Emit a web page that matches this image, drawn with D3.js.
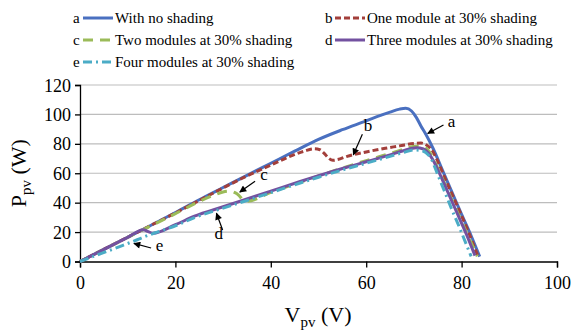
<!DOCTYPE html>
<html>
<head>
<meta charset="utf-8">
<script src="https://cdn.jsdelivr.net/npm/d3@7"></script>
</head>
<body style="margin:0">
<svg id="chart" width="571" height="331"></svg>
<script>
// Values
const xTicks = [0, 20, 40, 60, 80, 100];
const yTicks = [0, 20, 40, 60, 80, 100, 120];

const vA = [0, 5, 10, 15, 20, 25, 30, 35, 40, 45, 50, 55, 60, 63, 65, 67, 68.3, 69.5, 70.5, 71.5, 72.5, 74, 76, 78, 80, 82, 83.8];
const pA = [0, 8.3, 16.5, 24.8, 33.3, 42, 50.3, 58.6, 66.8, 75, 83, 89.6, 95.6, 99.3, 101.6, 103.6, 104.2, 102.3, 98, 92, 86.5, 77, 62, 47, 32, 17.5, 3.3];

const vB = [0, 5, 10, 15, 20, 25, 30, 35, 40, 44, 47, 49, 50.3, 51.2, 52.2, 53, 54, 56, 60, 64, 67, 70, 71.5, 72.7, 74, 75, 77, 79, 81, 83.5];
const pB = [0, 8.3, 16.5, 24.8, 33, 41.5, 50, 58.2, 65.5, 71.5, 75, 76.6, 76, 73.5, 70, 68.8, 69.3, 71.5, 74.5, 77, 78.6, 80.3, 80.5, 79, 74.6, 68, 53, 38.5, 23.5, 3];

const vC = [0, 5, 10, 15, 20, 25, 28, 30, 31.5, 32.5, 33.3, 34.2, 35, 40, 45, 50, 55, 60, 65, 68, 70.5, 71.8, 72.8, 74, 75, 77, 79, 81, 83.3];
const pC = [0, 8.2, 16.4, 24.5, 32.5, 40.8, 45, 47.3, 47.8, 46.8, 45, 41.8, 41, 47, 52.6, 58.2, 63.5, 68.6, 73.5, 76.5, 78.3, 78, 76.3, 70.5, 63.5, 49, 34.5, 20, 3.5];

const vD = [0, 5, 10, 13.3, 14.3, 15.3, 20, 24, 30, 35, 40, 46, 50, 55, 60, 65, 68, 70.5, 72, 73, 74, 75, 77, 79, 81, 82.8];
const pD = [0, 8.2, 16.4, 21.6, 20.3, 19.2, 25, 30.8, 37.2, 42.5, 47.8, 54.2, 58.3, 63.2, 67.8, 72.5, 75.5, 77.3, 76.5, 74, 69, 62.5, 48, 33.3, 18.5, 4];

const vE = [0, 3, 6, 9, 12, 13.8, 15.5, 20, 24, 30, 35, 40, 46, 50, 55, 60, 65, 68, 70, 71.5, 72.5, 73.5, 75, 76.5, 78, 79.7, 81, 82];
const pE = [0, 3.7, 7.3, 11, 14.8, 17.2, 19.2, 24.3, 29.8, 36.3, 41.5, 46.8, 53.2, 57.3, 62.2, 66.8, 71.5, 74.3, 75.8, 75.5, 74, 70.5, 59, 47, 35, 22, 11.5, 3.5];

const seriesNames = ["With no shading", "One module at 30% shading", "Two modules at 30% shading",
  "Three modules at 30% shading", "Four modules at 30% shading"];
const seriesKeys = ["a", "b", "c", "d", "e"];

const FONT = '"Liberation Serif"';

const series = [
  { key: "a", v: vA, p: pA, color: "#4a70c0", dash: null },
  { key: "b", v: vB, p: pB, color: "#a33f3b", dash: "6,3" },
  { key: "c", v: vC, p: pC, color: "#9bbb59", dash: "10,7" },
  { key: "d", v: vD, p: pD, color: "#7351a0", dash: null },
  { key: "e", v: vE, p: pE, color: "#4bacc6", dash: "9,4,2,4" }
];

const svg = d3.select("#chart");
const x = d3.scaleLinear().domain([0, 100]).range([80, 557]);
const y = d3.scaleLinear().domain([0, 120]).range([261.5, 85]);

// same face on every label
function label(sel, size) {
  return sel.style("font-family", FONT).style("font-size", size + "px").attr("fill", "#000");
}

// gridlines
svg.append("g")
  .selectAll("line")
  .data(yTicks.filter(d => d > 0))
  .enter()
  .append("line")
  .attr("x1", x(0)).attr("x2", x(100))
  .attr("y1", d => y(d)).attr("y2", d => y(d))
  .attr("stroke", "#bdbdbd")
  .attr("stroke-width", 1.2);

// axes
const xAxis = svg.append("g")
  .attr("transform", `translate(0,${y(0)})`)
  .call(d3.axisBottom(x).tickValues(xTicks).tickSize(6).tickPadding(9));
const yAxis = svg.append("g")
  .attr("transform", `translate(${x(0)},0)`)
  .call(d3.axisLeft(y).tickValues(yTicks).tickSize(5).tickPadding(4));

[xAxis, yAxis].forEach(g => {
  g.select(".domain").attr("stroke", "#000").attr("stroke-width", 1.3);
  g.selectAll(".tick line").attr("stroke", "#000").attr("stroke-width", 1.3);
  label(g.selectAll("text"), 18);
});
yAxis.selectAll("text").attr("dy", "0.34em");

// curves
const line = d3.line()
  .x(d => x(d[0]))
  .y(d => y(d[1]))
  .curve(d3.curveMonotoneX);

series.forEach(s => {
  const pts = s.v.map((v, i) => [v, s.p[i]]);
  svg.append("path")
    .datum(pts)
    .attr("d", line)
    .attr("fill", "none")
    .attr("stroke", s.color)
    .attr("stroke-width", 3)
    .attr("stroke-dasharray", s.dash)
    .attr("stroke-linejoin", "round");
});

// annotation arrows
const defs = svg.append("defs");
defs.append("marker")
  .attr("id", "arrow")
  .attr("viewBox", "0 0 10 10")
  .attr("refX", 9).attr("refY", 5)
  .attr("markerWidth", 9).attr("markerHeight", 7)
  .attr("markerUnits", "userSpaceOnUse")
  .attr("orient", "auto")
  .append("path")
  .attr("d", "M0,0 L10,5 L0,10 z")
  .attr("fill", "#000");

const notes = [
  { t: "a", from: [76.2, 92.8], to: [72.9, 87], tx: 77.1, ty: 91.5 },
  { t: "b", from: [59.2, 86.5], to: [57.3, 72.5], tx: 59.5, ty: 88.5 },
  { t: "c", from: [36.7, 54.6], to: [33.5, 47.2], tx: 37.8, ty: 55.5 },
  { t: "d", from: [29.9, 21.4], to: [28.6, 32.8], tx: 28.2, ty: 15.5 },
  { t: "e", from: [14.9, 9.2], to: [11.3, 12.3], tx: 15.9, ty: 7.4 }
];

notes.forEach(n => {
  svg.append("line")
    .attr("x1", x(n.from[0])).attr("y1", y(n.from[1]))
    .attr("x2", x(n.to[0])).attr("y2", y(n.to[1]))
    .attr("stroke", "#000").attr("stroke-width", 1.2)
    .attr("marker-end", "url(#arrow)");
  label(svg.append("text"), 17)
    .attr("x", x(n.tx)).attr("y", y(n.ty))
    .text(n.t);
});

// legend
const legendPos = [
  { lx: 73, ly: 18 }, { lx: 325, ly: 18 },
  { lx: 73, ly: 40 }, { lx: 325, ly: 40 },
  { lx: 73, ly: 62 }
];
series.forEach((s, i) => {
  const p = legendPos[i];
  const g = svg.append("g").attr("transform", `translate(${p.lx},${p.ly})`);
  label(g.append("text"), 15).attr("x", 0).attr("y", 4.5).text(seriesKeys[i]);
  g.append("line")
    .attr("x1", 10).attr("x2", 40)
    .attr("y1", 0).attr("y2", 0)
    .attr("stroke", s.color).attr("stroke-width", 3)
    .attr("stroke-dasharray", s.dash);
  label(g.append("text"), 15).attr("x", 42).attr("y", 4.5).text(seriesNames[i]);
});

// axis titles
const xt = label(svg.append("text"), 22)
  .attr("x", 318).attr("y", 322)
  .attr("text-anchor", "middle");
xt.append("tspan").text("V");
xt.append("tspan").style("font-size", "15px").attr("dy", 5).text("pv");
xt.append("tspan").attr("dy", -5).text(" (V)");

const yt = label(svg.append("text"), 22)
  .attr("transform", `translate(26,${(y(0) + y(120)) / 2}) rotate(-90)`)
  .attr("text-anchor", "middle");
yt.append("tspan").text("P");
yt.append("tspan").style("font-size", "15px").attr("dy", 5).text("pv");
yt.append("tspan").attr("dy", -5).text(" (W)");
</script>
</body>
</html>
